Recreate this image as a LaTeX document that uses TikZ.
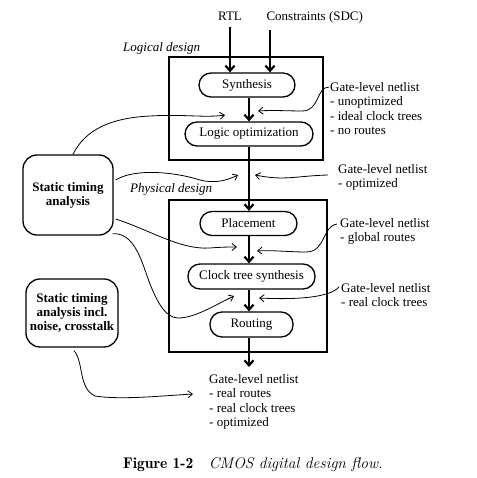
\documentclass[tikz,border=0pt]{standalone}
\usepackage{fontspec}
\setmainfont{Liberation Serif}
\usetikzlibrary{arrows.meta}
\begin{document}
\begin{tikzpicture}[x=1pt,y=-1pt,
  every node/.style={font=\fontsize{13}{14.5}\selectfont},
  stepbox/.style={draw, line width=1.3pt, rounded corners=12pt, minimum height=24pt, inner sep=0pt},
  stabox/.style={draw, line width=1.3pt, rounded corners=14pt, align=center, inner sep=0pt,
    font=\fontsize{13}{14}\selectfont\bfseries},
  frame/.style={draw, line width=2.5pt, inner sep=0pt},
  flow/.style={line width=2.2pt, -{Straight Barb[length=5pt,width=9pt]}},
  thinarr/.style={line width=0.8pt, -{Straight Barb[length=4.5pt,width=7pt]}},
  lbl/.style={align=left, anchor=north west, inner sep=0pt},
  ital/.style={anchor=base west, inner sep=0pt, font=\fontsize{13}{14.5}\selectfont\itshape},
]
\useasboundingbox (0,0) rectangle (476,478);
\fill[white] (0,0) rectangle (476,478);

% frames
\node[frame, minimum width=154pt, minimum height=103pt] (logical) at (246,108.5) {};
\node[frame, minimum width=158pt, minimum height=152pt] (physical) at (248,276) {};
\node[ital] (logl) at (123,52) {Logical design};
\node[ital] (physl) at (130,193) {Physical design};

% inputs
\node[anchor=base, inner ysep=6pt] (rtl) at (230,21) {RTL};
\node[anchor=base west, inner ysep=6pt] (sdc) at (263,21) {Constraints (SDC)};
\coordinate (sdcx) at (270,0);
\coordinate (fx) at (249,0);

% steps
\node[stepbox, minimum width=96pt] (synth) at (247,85) {Synthesis};
\node[stepbox, minimum width=128pt] (logic) at (249,134) {Logic optimization};
\node[stepbox, minimum width=97pt] (place) at (248.5,223.5) {Placement};
\node[stepbox, minimum width=127pt, minimum height=25pt] (cts) at (251.5,276.5) {Clock tree synthesis};
\node[stepbox, minimum width=83pt, minimum height=25pt] (route) at (251.5,324.5) {Routing};

% labels
\node[lbl] (l1) at (330,82) {Gate-level netlist\\- unoptimized\\- ideal clock trees\\- no routes};
\node[lbl] (l2) at (338,164) {Gate-level netlist\\- optimized};
\node[lbl] (l3) at (340,218) {Gate-level netlist\\- global routes};
\node[lbl] (l4) at (341,283) {Gate-level netlist\\- real clock trees};
\node[lbl] (out) at (209,374) {Gate-level netlist\\- real routes\\- real clock trees\\- optimized};

% STA boxes
\node[stabox, minimum width=90pt, minimum height=80pt] (sta) at (68,195) {Static timing\\analysis};
\node[stabox, minimum width=92pt, minimum height=68pt] (sta2) at (72,313) {Static timing\\analysis incl.\\noise, crosstalk};

% caption
\node[anchor=base west, inner sep=0pt, font=\fontfamily{lmr}\fontsize{15.5}{18}\selectfont] (cap) at (123,468)
  {\textbf{Figure 1-2}\quad\textit{CMOS digital design flow.}};

% flow arrows
\draw[flow] (rtl.south) -- (rtl.south |- synth.north);
\draw[flow] (sdc.south -| sdcx) -- (synth.north -| sdcx);
\draw[flow] (synth.south -| fx) -- (logic.north -| fx);
\draw[flow] (logic.south -| fx) -- (place.north -| fx);
\draw[flow] (place.south -| fx) -- (cts.north -| fx);
\draw[flow] (cts.south -| fx) -- (route.north -| fx);
\draw[flow, shorten >=7pt] (route.south -| fx) -- (out.north -| fx);

% free ends
\coordinate (t1) at (258,111);
\coordinate (t2) at (255,175);
\coordinate (t3) at (257,251);
\coordinate (t4) at (259,298);
\coordinate (s1) at (225,115);
\coordinate (s2) at (238,175);
\coordinate (s3) at (237,247);
\coordinate (s4) at (234,296);
\coordinate (s5) at (193,394);

% netlist annotations
\draw[thinarr] ([shift={(-1,5)}]l1.north west) .. controls (316,87) and (320,111) .. (302,111)
   .. controls (290,111) and (272,110) .. (t1);
\draw[thinarr] ([shift={(-10,11)}]l2.north west) .. controls (295,176) and (285,181) .. (t2);
\draw[thinarr] ([shift={(-3,6)}]l3.north west) .. controls (322,226) and (326,252) .. (306,252)
   .. controls (290,252) and (272,250) .. (t3);
\draw[thinarr] ([shift={(-2,4)}]l4.north west) .. controls (330,297) and (300,300) .. (t4);

% STA arrows
\draw[thinarr] ([xshift=5pt]sta.north) .. controls (85,130) and (110,118) .. (150,116)
   .. controls (185,114) and (205,118) .. (s1);
\draw[thinarr] ([shift={(2,-15)}]sta.east) .. controls (135,168) and (175,172) .. (200,180)
   .. controls (215,184) and (228,180) .. (s2);
\draw[thinarr] ([shift={(2,24)}]sta.east) .. controls (150,230) and (180,250) .. (210,248)
   .. controls (222,247) and (230,247) .. (s3);
\draw[thinarr] ([shift={(-1,-2)}]sta.south east) .. controls (130,233) and (138,250) .. (145,270)
   .. controls (155,300) and (165,318) .. (178,318) .. controls (195,318) and (215,305) .. (s4);
\draw[thinarr] ([shift={(2,3)}]sta2.south) .. controls (84,362) and (78,388) .. (95,396)
   .. controls (120,400) and (160,396) .. (s5);
\end{tikzpicture}
\end{document}
